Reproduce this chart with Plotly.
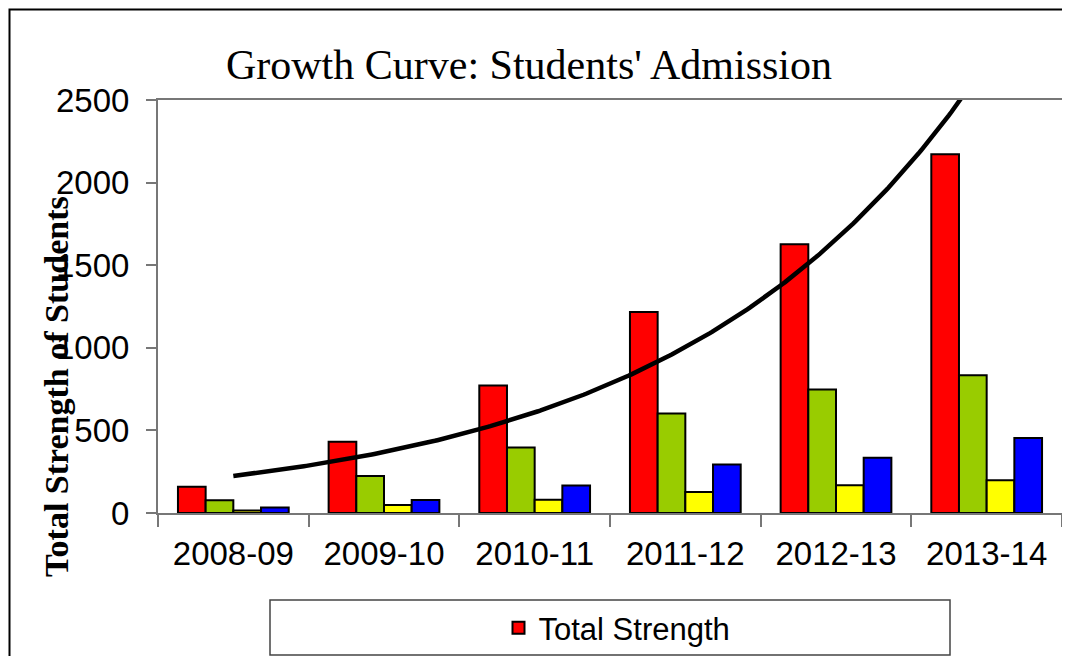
import numpy as np
import plotly.graph_objects as go

years = ["2008-09", "2009-10", "2010-11", "2011-12", "2012-13", "2013-14"]
total_strength = [159, 432, 772, 1217, 1627, 2171]
series_green = [77, 224, 397, 602, 747, 834]
series_yellow = [15, 48, 80, 127, 168, 198]
series_blue = [33, 79, 167, 293, 335, 454]
y_ticks = [0, 500, 1000, 1500, 2000, 2500]

OFF = 8  # page body margin
W, H = 1070 - OFF, 656 - OFF
# plot area in page pixels
PL, PT, PR, PB = 158, 100, 1062, 513
L, T = PL - OFF, PT - OFF
R, B = W - (PR - OFF), H - (PB - OFF)
pw, ph = PR - PL, PB - PT


def px(x):
    return (x - PL) / pw


def py(y):
    return (PB - y) / ph


fig = go.Figure()
bar_line = dict(color="black", width=2)
fig.add_trace(go.Bar(x=years, y=total_strength, name="Total Strength",
                     marker=dict(color="#FF0000", line=bar_line)))
fig.add_trace(go.Bar(x=years, y=series_green, name="Series 2", showlegend=False,
                     marker=dict(color="#99CC00", line=bar_line)))
fig.add_trace(go.Bar(x=years, y=series_yellow, name="Series 3", showlegend=False,
                     marker=dict(color="#FFFF00", line=bar_line)))
fig.add_trace(go.Bar(x=years, y=series_blue, name="Series 4", showlegend=False,
                     marker=dict(color="#0000FF", line=bar_line)))

# exponential trendline fitted to Total Strength
idx = np.arange(len(total_strength))
b, a = np.polyfit(idx, np.log(total_strength), 1)
xs = np.linspace(0, len(total_strength) - 1, 300)
ys = np.exp(a + b * xs)
fig.add_trace(go.Scatter(x=xs, y=ys, xaxis="x2", mode="lines", showlegend=False,
                         line=dict(color="black", width=4.5), hoverinfo="skip"))

axis_col = "#777777"
sans = "Liberation Sans, Arial, sans-serif"
serif = "Liberation Serif, Times New Roman, serif"
fig.update_layout(
    width=W, height=H,
    margin=dict(l=L, r=R, t=T, b=B, autoexpand=False),
    paper_bgcolor="white", plot_bgcolor="white",
    barmode="group", bargap=0.265, bargroupgap=0,
    showlegend=True,
    legend=dict(orientation="h", x=px(617), y=py(628), xanchor="center", yanchor="middle",
                font=dict(family=sans, size=31, color="black"),
                bgcolor="rgba(0,0,0,0)", borderwidth=0, itemwidth=30),
    xaxis=dict(type="category", tickson="boundaries", ticks="outside", ticklen=12,
               tickcolor=axis_col, tickwidth=1.5,
               showline=True, linecolor=axis_col, linewidth=2, mirror=True,
               showgrid=False, zeroline=False, ticklabelstandoff=10,
               tickfont=dict(family=sans, size=33, color="black")),
    xaxis2=dict(overlaying="x", range=[-0.5, len(years) - 0.5], visible=False),
    yaxis=dict(range=[0, 2500], tickvals=y_ticks, ticks="outside", ticklen=10,
               tickcolor=axis_col, tickwidth=1.5,
               showline=True, linecolor=axis_col, linewidth=2, mirror=True,
               showgrid=False, zeroline=False, ticklabelstandoff=10,
               tickfont=dict(family=sans, size=33, color="black")),
    title=dict(text="Growth Curve: Students' Admission", xref="paper", x=px(529),
               xanchor="center", yref="container", y=1 - (64 - OFF) / H, yanchor="middle",
               font=dict(family=serif, size=42, color="black")),
    annotations=[dict(text="<b>Total Strength of Students</b>", textangle=-90,
                      xref="paper", yref="paper", x=px(57), y=py(387),
                      xanchor="center", yanchor="middle", showarrow=False,
                      font=dict(family=serif, size=34, color="black"))],
    shapes=[
        dict(type="rect", xref="paper", yref="paper", x0=px(9.5), x1=px(1085),
             y0=py(675), y1=py(9.5), line=dict(color="black", width=2), layer="below"),
        dict(type="rect", xref="paper", yref="paper", x0=px(270), x1=px(950),
             y0=py(655), y1=py(600), line=dict(color="#444444", width=1.5), layer="below"),
    ],
)

fig.write_html("out.html")
